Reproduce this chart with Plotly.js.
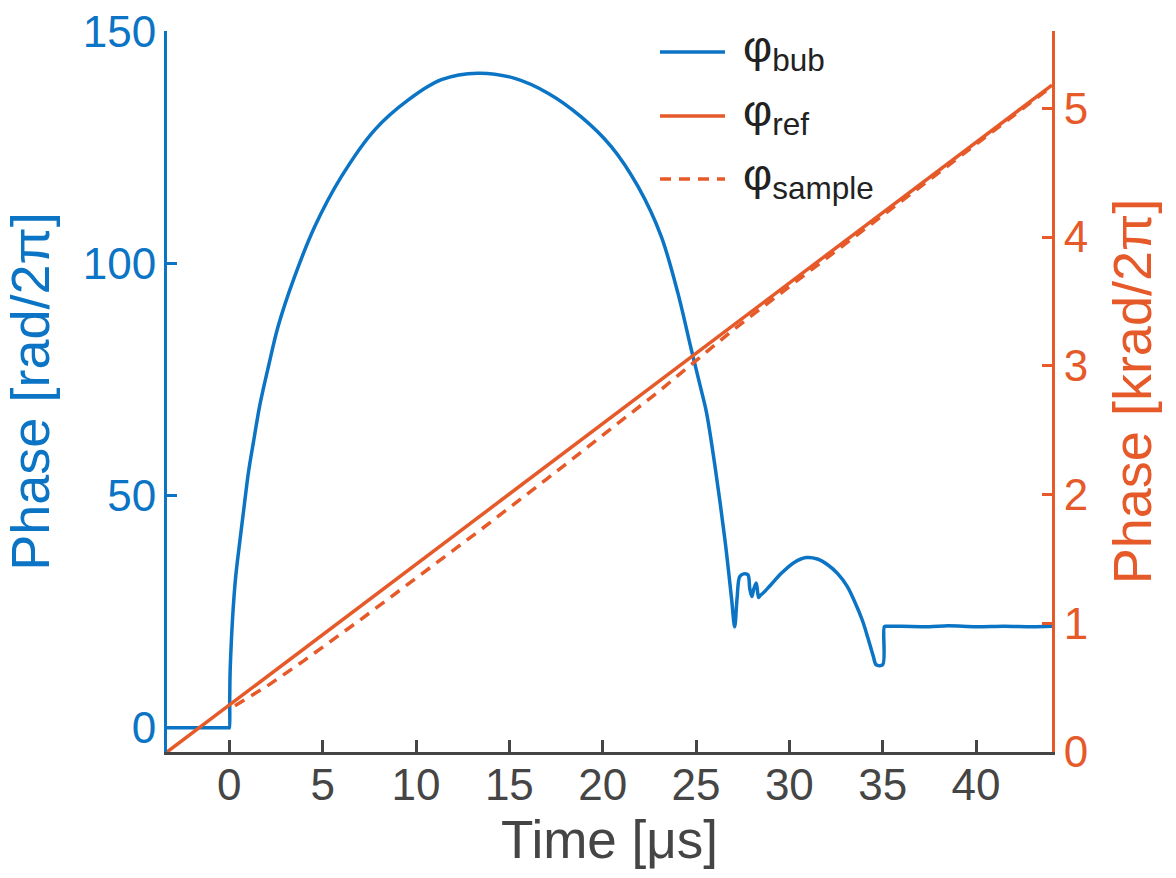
<!DOCTYPE html>
<html>
<head>
<meta charset="utf-8">
<script src="https://cdn.plot.ly/plotly-3.0.1.min.js"></script>
<style>html,body{margin:0;padding:0;background:#fff;}#chart{width:1176px;height:878px;}</style>
</head>
<body>
<div id="chart"></div>
<script>
// φ_bub (left axis, rad/2π)
const bubT = [-3.34, -0.02, 0.0, 0.02, 0.04, 0.1, 0.21, 0.35, 0.57, 0.8, 1.02, 1.3, 1.63, 2.1, 2.61, 3.5, 4.57, 6.0, 7.79, 9.57, 11.36, 13.32, 15.29, 17.07, 18.85, 20.46, 21.89, 23.14, 24.03, 24.75, 25.28, 25.57, 26.02, 26.55, 26.9, 27.07, 27.2, 27.34, 27.55, 27.78, 27.88, 27.99, 28.1, 28.23, 28.35, 28.45, 28.58, 29.0, 29.57, 30.2, 30.9, 31.5, 32.07, 32.6, 33.1, 33.5, 33.9, 34.2, 34.5, 34.65, 35.0, 35.09, 35.2, 36.0, 37.5, 38.5, 40.0, 41.5, 43.0, 44.07];
const bubV = [0, 0, 0, 6, 11.8, 18, 26, 33, 40.5, 48, 55, 61.8, 69.5, 78, 86.5, 97.3, 108, 118.8, 128.9, 135.3, 139.7, 141.1, 140.0, 136.8, 131.7, 125.3, 116.7, 105.9, 93.7, 81.5, 72.8, 67.8, 56.3, 40.5, 28, 21.8, 28, 32.6, 33.2, 33.0, 30, 28.3, 30, 31.2, 28.1, 28.6, 29.0, 30.8, 33.3, 35.5, 36.7, 36.4, 35.1, 33.2, 30.5, 27.2, 23.3, 19.5, 15.4, 13.6, 13.6, 21.8, 21.9, 21.9, 21.8, 22.0, 21.8, 21.9, 21.8, 21.9];

// φ_ref (right axis, krad/2π)
const refT = [-3.34, 44.07];
const refV = [0, 5.18];

// φ_sample (right axis, krad/2π)
const sampleT = [0.3, 1, 2, 4, 7, 10, 13.5, 17, 20, 23, 25, 27, 30, 35, 40, 44.07];
const sampleV = [0.36, 0.42, 0.51, 0.71, 1.025, 1.35, 1.73, 2.12, 2.46, 2.80, 3.04, 3.28, 3.615, 4.17, 4.72, 5.17];

const xTicks = [0, 5, 10, 15, 20, 25, 30, 35, 40];
const yTicks = [0, 50, 100, 150];
const y2Ticks = [0, 1, 2, 3, 4, 5];

const seriesNames = ['φ<sub>bub</sub>', 'φ<sub>ref</sub>', 'φ<sub>sample</sub>'];

const BLUE = '#0B74C4';
const ORANGE = '#E65A2A';
const GRAY = '#454545';
const FONT = 'Liberation Sans, Arial, Helvetica, sans-serif';
const DASH = '11px,8px';

const traces = [
  {x: bubT, y: bubV, type: 'scatter', mode: 'lines', name: seriesNames[0],
   line: {color: BLUE, width: 3.5, shape: 'spline', smoothing: 0.9}, yaxis: 'y'},
  {x: refT, y: refV, type: 'scatter', mode: 'lines', name: seriesNames[1],
   line: {color: ORANGE, width: 3.5}, yaxis: 'y2'},
  {x: sampleT, y: sampleV, type: 'scatter', mode: 'lines', name: seriesNames[2],
   line: {color: ORANGE, width: 3.5, dash: DASH}, yaxis: 'y2'}
];

// legend drawn by hand (plot area: 167..1052 px wide, 31..752 px tall)
const PL = 167, PW = 885, PB = 752, PH = 721;
const px2x = p => (p - PL) / PW;
const px2y = p => (PB - p) / PH;
const legRows = [52, 116, 179];
const legStyles = [{color: BLUE, dash: 'solid'}, {color: ORANGE, dash: 'solid'}, {color: ORANGE, dash: DASH}];
const shapes = legRows.map((r, i) => ({
  type: 'line', xref: 'paper', yref: 'paper', x0: px2x(660), x1: px2x(725), y0: px2y(r), y1: px2y(r),
  line: {color: legStyles[i].color, width: 3.5, dash: legStyles[i].dash}
}));
const annotations = legRows.map((r, i) => ({
  xref: 'paper', yref: 'paper', x: px2x(741), y: px2y(r - 2), xanchor: 'left', yanchor: 'middle',
  text: seriesNames[i], showarrow: false, font: {family: FONT, size: 45, color: '#222'}
}));

const layout = {
  width: 1176, height: 878,
  margin: {l: 167, r: 124, t: 31, b: 126, pad: 0},
  paper_bgcolor: '#fff', plot_bgcolor: '#fff',
  font: {family: FONT, size: 44, color: GRAY},
  showlegend: false,
  shapes: shapes,
  annotations: annotations,
  xaxis: {range: [-3.34, 44.07], tickvals: xTicks, ticktext: xTicks.map(String),
          showline: true, linecolor: GRAY, linewidth: 3, ticks: 'inside', ticklen: 12,
          tickwidth: 3, tickcolor: GRAY, showgrid: false, zeroline: false, ticklabelstandoff: -8,
          tickfont: {family: FONT, size: 44, color: GRAY},
          title: {text: '\u2005Time [μs]', font: {family: FONT, size: 53, color: GRAY}, standoff: 14}},
  yaxis: {range: [-5.2, 150.2], tickvals: yTicks, ticktext: yTicks.map(String),
          showline: true, linecolor: BLUE, linewidth: 3, ticks: 'inside', ticklen: 10,
          tickwidth: 3, tickcolor: BLUE, showgrid: false, zeroline: false, ticklabelstandoff: -1,
          tickfont: {family: FONT, size: 44, color: BLUE},
          title: {text: '\u2002Phase [rad/2π]', font: {family: FONT, size: 54, color: BLUE}, standoff: 18}},
  yaxis2: {range: [0, 5.6], tickvals: y2Ticks, ticktext: y2Ticks.map(String),
           overlaying: 'y', side: 'right',
           showline: true, linecolor: ORANGE, linewidth: 3, ticks: 'inside', ticklen: 10,
           tickwidth: 3, tickcolor: ORANGE, showgrid: false, zeroline: false,
           tickfont: {family: FONT, size: 44, color: ORANGE},
           title: {text: '\u2002Phase [krad/2π]', font: {family: FONT, size: 54, color: ORANGE}, standoff: 26}}
};

Plotly.newPlot('chart', traces, layout, {displayModeBar: false, staticPlot: true});
</script>
</body>
</html>
